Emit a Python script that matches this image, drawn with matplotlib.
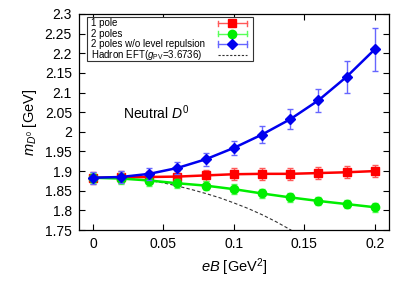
import matplotlib
matplotlib.use('Agg')
import matplotlib.pyplot as plt
from matplotlib.patches import Rectangle
import numpy as np

plt.rcParams['font.family'] = ['Liberation Sans', 'DejaVu Sans']
plt.rcParams['mathtext.fontset'] = 'custom'
plt.rcParams['mathtext.rm'] = 'Liberation Sans'
plt.rcParams['mathtext.it'] = 'Liberation Sans:italic'

# Data
eB = [0.0, 0.02, 0.04, 0.06, 0.08, 0.10, 0.12, 0.14, 0.16, 0.18, 0.20]

one_pole = [1.883, 1.884, 1.885, 1.886, 1.889, 1.892, 1.893, 1.893, 1.895, 1.897, 1.900]
one_pole_err = [0.015, 0.015, 0.015, 0.015, 0.015, 0.015, 0.015, 0.015, 0.015, 0.015, 0.016]

two_poles = [1.883, 1.881, 1.876, 1.869, 1.863, 1.854, 1.843, 1.833, 1.824, 1.816, 1.808]
two_poles_err = [0.013, 0.013, 0.013, 0.012, 0.012, 0.012, 0.012, 0.012, 0.011, 0.011, 0.011]

no_repulsion = [1.883, 1.885, 1.893, 1.908, 1.930, 1.959, 1.993, 2.032, 2.080, 2.140, 2.210]
no_repulsion_err = [0.015, 0.015, 0.015, 0.015, 0.016, 0.018, 0.021, 0.025, 0.030, 0.040, 0.055]

eft_eB = [0.0, 0.01, 0.02, 0.03, 0.04, 0.05, 0.06, 0.07, 0.08, 0.09, 0.10,
          0.11, 0.12, 0.13, 0.14, 0.15]
eft_m = [1.883, 1.8826, 1.881, 1.879, 1.876, 1.870, 1.862, 1.853, 1.843, 1.832,
         1.819, 1.805, 1.789, 1.771, 1.751, 1.728]

series = [
    ('1 pole', one_pole, one_pole_err, 'red', (1, 0.35, 0.35), 's', 6),
    ('2 poles', two_poles, two_poles_err, '#00ee00', (0.35, 1, 0.35), 'o', 6),
    ('2 poles w/o level repulsion', no_repulsion, no_repulsion_err, '#0000ee',
     (0.4, 0.4, 1), 'D', 5.5),
]

fig = plt.figure(figsize=(4.15, 2.91), dpi=100)
ax = fig.add_axes([0.190, 0.2096, 0.747, 0.7424])

ax.plot(eft_eB, eft_m, color='#333333', lw=0.8, dashes=(3, 2), zorder=2)

for i, (lab, y, err, c, ec, mk, ms) in enumerate(series):
    ax.errorbar(eB, y, yerr=err, color=c, ecolor=ec, marker=mk, ms=ms, lw=1.8,
                elinewidth=1.0, capsize=2.5, capthick=1.0, zorder=3 + i)

ax.set_xlim(-0.01, 0.21)
ax.set_ylim(1.75, 2.3)
ax.set_xticks(np.arange(0, 0.201, 0.05))
ax.set_xticklabels(['0', '0.05', '0.1', '0.15', '0.2'])
yt = np.arange(1.75, 2.301, 0.05)
ax.set_yticks(yt)
ax.set_yticklabels(['%g' % round(v, 2) for v in yt])
ax.tick_params(direction='in', top=True, right=True, labelsize=10, length=4, pad=5)
for s in ax.spines.values():
    s.set_linewidth(0.9)

ax.set_xlabel(r'$eB$ [GeV$^2$]', fontsize=10.5, labelpad=4)
ax.set_ylabel(r'$m_{D^0}$ [GeV]', fontsize=10.5, labelpad=4)

ax.text(0.021, 2.048, r'Neutral $D^0$', fontsize=10, va='center', ha='left')

# gnuplot-style key: text on the left, sample on the right
tr = ax.transAxes
ax.add_patch(Rectangle((0.026, 0.783), 0.535, 0.203, transform=tr, fill=True,
                       facecolor='white', edgecolor='#333333', lw=0.8, zorder=10))
rows = [0.957, 0.909, 0.861, 0.810]
sx0, sx1 = 0.448, 0.542
for (lab, y, err, c, ec, mk, ms), ry in zip(series, rows):
    ax.text(0.040, ry, lab, transform=tr, fontsize=7.0, va='center', ha='left', zorder=11)
    ax.plot([sx0, sx1], [ry, ry], color=ec, lw=1.0, transform=tr, zorder=11)
    for sx in (sx0, sx1):
        ax.plot([sx, sx], [ry - 0.012, ry + 0.012], color=ec, lw=1.0, transform=tr, zorder=11)
    ax.plot([(sx0 + sx1) / 2], [ry], marker=mk, ms=ms, color=c, transform=tr, zorder=12)
ax.text(0.040, rows[3], r'Hadron EFT($g_{\mathrm{PV}}$=3.6736)', transform=tr,
        fontsize=7.0, va='center', ha='left', zorder=11)
ax.plot([sx0, sx1], [rows[3], rows[3]], color='#333333', lw=0.8, dashes=(2, 1.5),
        transform=tr, zorder=11)

fig.savefig('out.png', dpi=100)
